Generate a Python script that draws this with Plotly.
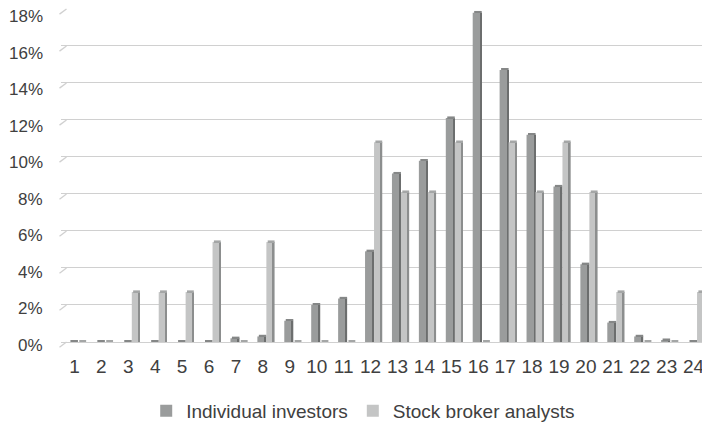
import plotly.graph_objects as go

categories = [str(i) for i in range(1, 25)]
individual_investors = [0, 0, 0, 0, 0, 0, 0.2, 0.3, 1.15, 2.0, 2.35, 4.9,
                        9.1, 9.8, 12.1, 17.8, 14.7, 11.2, 8.4, 4.2, 1.05, 0.3, 0.1, 0]
stock_broker_analysts = [0, 0, 2.7, 2.7, 2.7, 5.4, 0, 5.4, 0, 0, 0, 10.8,
                         8.1, 8.1, 10.8, 0, 10.8, 8.1, 10.8, 8.1, 2.7, 0, 0, 2.7]
y_tick_values = [0, 2, 4, 6, 8, 10, 12, 14, 16, 18]
y_tick_labels = ["0%", "2%", "4%", "6%", "8%", "10%", "12%", "14%", "16%", "18%"]
series_names = ["Individual investors", "Stock broker analysts"]

Y_MAX = 18.05

DARK_FRONT = "#9a9c9c"
DARK_SIDE = "#6c6e6e"
LIGHT_FRONT = "#c4c5c5"
LIGHT_SIDE = "#8c8e8e"
DARK_CAP = "#858787"
LIGHT_CAP = "#a4a6a6"
CAP_H = 0.09
GRID = "#d0d0d0"
TEXT = "#404040"

fig = go.Figure()

# Individual investors: front face, side face, top cap
fig.add_trace(go.Bar(x=categories, y=individual_investors, name=series_names[0],
                     marker=dict(color=DARK_FRONT, line=dict(width=0)),
                     offset=-0.2045, width=0.279, showlegend=True))
fig.add_trace(go.Bar(x=categories, y=individual_investors, name=series_names[0],
                     marker=dict(color=DARK_SIDE, line=dict(width=0)),
                     offset=0.0743, width=0.056, showlegend=False))
fig.add_trace(go.Bar(x=categories, y=[CAP_H] * len(categories), base=individual_investors,
                     marker=dict(color=DARK_CAP, line=dict(width=0)),
                     offset=-0.15, width=0.28, showlegend=False, hoverinfo="skip"))

# Stock broker analysts: front face, side face, top cap
fig.add_trace(go.Bar(x=categories, y=stock_broker_analysts, name=series_names[1],
                     marker=dict(color=LIGHT_FRONT, line=dict(width=0)),
                     offset=0.130, width=0.242, showlegend=True))
fig.add_trace(go.Bar(x=categories, y=stock_broker_analysts, name=series_names[1],
                     marker=dict(color=LIGHT_SIDE, line=dict(width=0)),
                     offset=0.372, width=0.063, showlegend=False))
fig.add_trace(go.Bar(x=categories, y=[CAP_H] * len(categories), base=stock_broker_analysts,
                     marker=dict(color=LIGHT_CAP, line=dict(width=0)),
                     offset=0.18, width=0.254, showlegend=False, hoverinfo="skip"))

# perspective slants at the left end of the gridlines
shapes = []
for t in y_tick_values:
    shapes.append(dict(type="line", xref="paper", yref="paper", x0=-0.0023, x1=0.0085,
                       y0=(t - 0.28) / Y_MAX, y1=t / Y_MAX,
                       line=dict(color=GRID, width=1.3), layer="above"))

# y tick labels sit on the chart's front plane, slightly below the back-wall gridlines
annotations = []
for t, lab in zip(y_tick_values, y_tick_labels):
    annotations.append(dict(xref="paper", yref="y", x=0, y=t, text=lab,
                            showarrow=False, xanchor="right", yanchor="middle",
                            xshift=-16, yshift=-(3.3 + 0.244 * t),
                            font=dict(size=17, color=TEXT)))

# the page adds an 8px body margin, so the figure is sized to fit the 710x425 window
fig.update_layout(
    width=702, height=417,
    margin=dict(l=53, r=3, t=0, b=83, autoexpand=False),
    paper_bgcolor="white", plot_bgcolor="white",
    barmode="overlay",
    font=dict(family="Liberation Sans, Arial, sans-serif", color=TEXT),
    shapes=shapes,
    annotations=annotations,
    legend=dict(orientation="h", xref="container", yref="container",
                x=0.506, y=0.034, xanchor="center", yanchor="middle",
                font=dict(size=19, color=TEXT), traceorder="normal"),
    xaxis=dict(type="category", categoryorder="array", categoryarray=categories,
               range=[-0.5, 23.5], showgrid=False, showline=False, zeroline=False,
               ticks="", tickfont=dict(size=19, color=TEXT),
               ticklabelstandoff=11, automargin=False, ticklabeloverflow="allow"),
    yaxis=dict(range=[0, Y_MAX], tickvals=y_tick_values, ticktext=y_tick_labels,
               showticklabels=False,
               showgrid=True, gridcolor=GRID, gridwidth=1.3,
               zeroline=True, zerolinecolor=GRID, zerolinewidth=1.3,
               showline=False, ticks="", automargin=False),
)

fig.write_html("out.html")
